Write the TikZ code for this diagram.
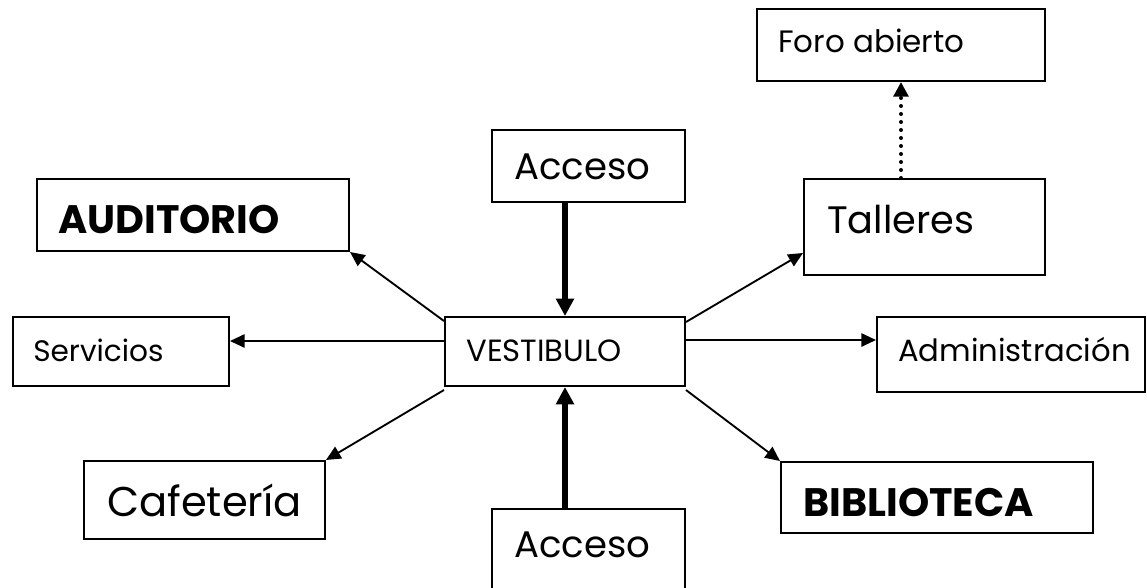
\documentclass[tikz,border=0pt]{standalone}
\usepackage{fontspec}
\setmainfont{Poppins}
\usetikzlibrary{arrows.meta,fit,calc}
\begin{document}
\begin{tikzpicture}[x=0.75pt,y=-0.75pt,
  box/.style={draw, line width=1.5pt, inner sep=0pt, rectangle},
  txt/.style={inner sep=0pt, anchor=base west},
  arr/.style={line width=1.4pt, -{Triangle[length=11pt,width=10pt]}},
  thick arr/.style={line width=3.8pt, -{Triangle[length=13pt,width=13pt]}},
  dot arr/.style={line width=3pt, dash pattern=on 0pt off 6pt, line cap=round, -{Triangle[length=11pt,width=11pt,line cap=butt]}}
]
\useasboundingbox (0,0) rectangle (1147,587);
\begin{scope}
\clip (0,0) rectangle (1147,587);
% boxes
\node[box, fit={(757,9) (1045,81)}] (foro) {};
\node[box, fit={(804,179) (1045,275)}] (tall) {};
\node[box, fit={(492,130) (685,202)}] (accT) {};
\node[box, fit={(37,179) (349,251)}] (aud) {};
\node[box, fit={(445,317) (685,386)}] (vest) {};
\node[box, fit={(13,317) (229,386)}] (serv) {};
\node[box, fit={(877,317) (1145,392)}] (admin) {};
\node[box, fit={(84,461) (325,539)}] (cafe) {};
\node[box, fit={(781,462) (1093,533)}] (bib) {};
\node[box, fit={(492,509) (685,610)}] (accB) {};
\end{scope}
% texts
\node[txt, font=\fontsize{23.2}{28}\selectfont] (tforo) at (778,52) {Foro abierto};
\node[txt, font=\fontsize{28.7}{34}\selectfont] (ttall) at (827,233) {Talleres};
\node[txt, font=\fontsize{27.8}{33}\selectfont] (taccT) at (514,179) {Acceso};
\node[txt, font=\fontsize{29.8}{36}\selectfont\bfseries] (taud) at (58,233) {AUDITORIO};
\node[txt, font=\fontsize{23}{28}\selectfont] (tvest) at (466,361) {VESTIBULO};
\node[txt, font=\fontsize{22.2}{27}\selectfont] (tserv) at (33,361) {Servicios};
\node[txt, font=\fontsize{23}{28}\selectfont] (tadmin) at (898,361) {Administración};
\node[txt, font=\fontsize{31.2}{37}\selectfont] (tcafe) at (107,516) {Cafetería};
\node[txt, font=\fontsize{29.8}{36}\selectfont\bfseries] (tbib) at (803,516) {BIBLIOTECA};
\node[txt, font=\fontsize{27.8}{33}\selectfont] (taccB) at (514,557) {Acceso};
% connectors
\draw[thick arr] (accT.south -| vest.north) -- (vest.north);
\draw[thick arr] (accB.north -| vest.south) -- (vest.south);
\draw[arr] ($(vest.north west)+(0,5)$) -- (aud.south east);
\draw[arr] ($(vest.north west)+(0,25)$) -- ($(serv.north east)+(0,25)$);
\draw[arr] ($(vest.south west)+(0,3)$) -- (cafe.north east);
\draw[arr] ($(vest.north east)+(0,6)$) -- ($(tall.south west)+(0,-23)$);
\draw[arr] ($(vest.north east)+(0,24)$) -- ($(admin.north west)+(0,24)$);
\draw[arr] ($(vest.south east)+(0,3)$) -- (bib.north west);
\draw[dot arr] (foro.south |- tall.north) -- (foro.south);
\end{tikzpicture}
\end{document}
